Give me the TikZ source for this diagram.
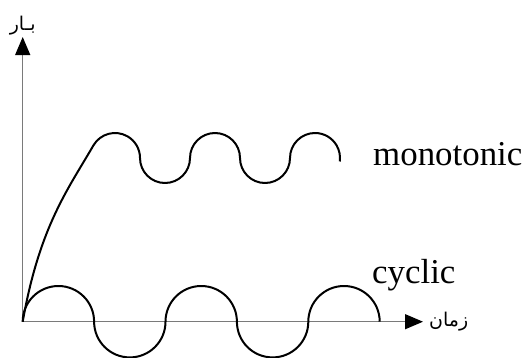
\documentclass[tikz,border=0pt]{standalone}
\usepackage{fontspec}
\setmainfont{Liberation Serif}
\newfontfamily\arabicfont[Script=Arabic]{DejaVu Sans}
\TeXXeTstate=1
\usepackage{xcolor}
\usetikzlibrary{arrows.meta,positioning}
\definecolor{axisgray}{HTML}{7A7A7A}

\begin{document}
\begin{tikzpicture}[
  x=1bp,y=1bp,
  axis/.style={draw=axisgray,line width=1.2bp,
    -{Triangle[length=18bp,width=15bp,color=black]}},
  curve/.style={draw=black,line width=2bp,line join=round},
  curvelabel/.style={font=\fontsize{35}{40}\selectfont,inner sep=0pt,anchor=base west},
  axislabel/.style={font=\arabicfont\fontsize{19}{22}\selectfont,inner sep=0pt}
]
\useasboundingbox (0,0) rectangle (530,357);
\coordinate (origin) at (22.7,35.3);
\coordinate (timeend) at (423,35.3);
\coordinate (loadend) at (22.7,320);
\coordinate (monostart) at (93.35,211.5);
\draw[axis] (origin)--(timeend);
\draw[axis] (origin)--(loadend);
\node[axislabel,right=6bp of timeend] (timelabel) {\beginR زمان\endR};
\node[axislabel,above=2bp of loadend] (loadlabel) {\beginR بـار\endR};
% monotonic loading
\draw[curve] (origin) .. controls +(80:97) and +(240:50) .. (monostart)
  arc[start angle=150,end angle=0,radius=25]
  arc[start angle=180,end angle=360,radius=25]
  arc[start angle=180,end angle=0,radius=25]
  arc[start angle=180,end angle=360,radius=25]
  arc[start angle=180,end angle=-8,radius=25];
% cyclic loading
\draw[curve] (origin)
  arc[start angle=180,end angle=0,radius=35.7]
  arc[start angle=180,end angle=360,radius=35.7]
  arc[start angle=180,end angle=0,radius=35.7]
  arc[start angle=180,end angle=360,radius=35.7]
  arc[start angle=180,end angle=0,radius=35.7];
\node[curvelabel] (monolabel) at (373,192) {monotonic};
\node[curvelabel] (cycliclabel) at (372,74) {cyclic};
\end{tikzpicture}
\end{document}
